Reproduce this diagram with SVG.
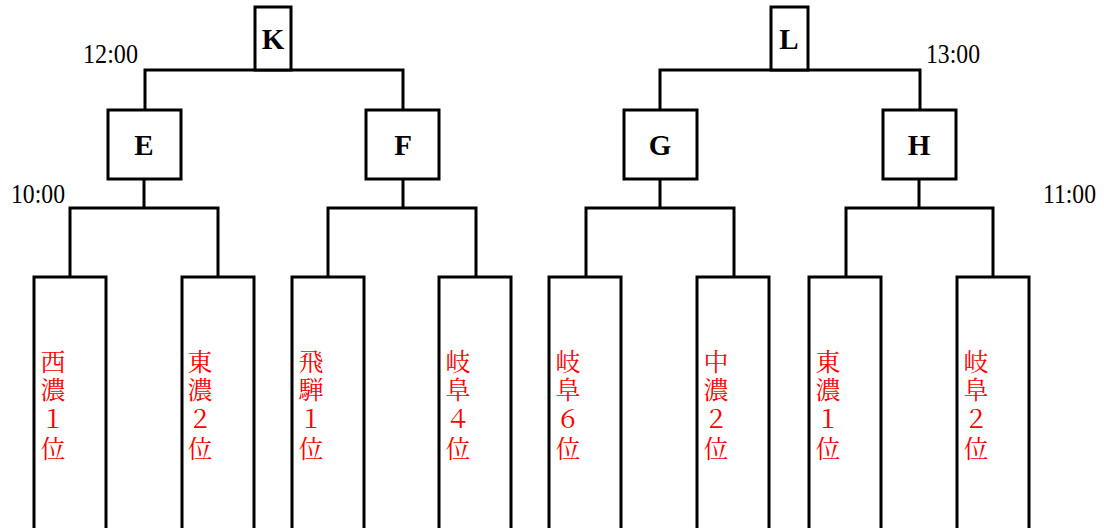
<svg xmlns="http://www.w3.org/2000/svg" width="1104" height="528" viewBox="0 0 1104 528">
<style>
.ln{fill:none;stroke:#000;stroke-width:3;stroke-linecap:square}
.bx{fill:#fff;stroke:#000;stroke-width:3}
.lbl{font-family:"Liberation Serif","DejaVu Serif",serif;font-weight:bold;font-size:29px;text-anchor:middle}
.tm{font-family:"Liberation Serif","DejaVu Serif",serif;font-size:27px}
.tn{font-family:"Noto Serif CJK JP","Noto Sans CJK JP",serif;font-size:25px;fill:#ff0000;text-anchor:middle;dominant-baseline:central}
</style>
<rect width="1104" height="528" fill="#fff"/>
<g id="connectors">
<path class="ln" d="M145,70 H403 M145,70 V110 M403,70 V110"/>
<path class="ln" d="M660,70 H920 M660,70 V110 M920,70 V110"/>
<path class="ln" d="M144,180 V208 M70,208 H218 M70,208 V277 M218,208 V277"/>
<path class="ln" d="M403,180 V208 M328,208 H476 M328,208 V277 M476,208 V277"/>
<path class="ln" d="M660,180 V208 M586,208 H734 M586,208 V277 M734,208 V277"/>
<path class="ln" d="M919,180 V208 M846,208 H993 M846,208 V277 M993,208 V277"/>
</g>
<g id="K"><rect class="bx" x="255" y="7" width="36" height="63"/><text class="lbl" x="273" y="49">K</text></g>
<g id="L"><rect class="bx" x="771" y="7" width="37" height="63"/><text class="lbl" x="789" y="49">L</text></g>
<g id="E"><rect class="bx" x="108" y="110" width="73" height="69"/><text class="lbl" x="144" y="155">E</text></g>
<g id="F"><rect class="bx" x="366" y="110" width="73" height="69"/><text class="lbl" x="403" y="155">F</text></g>
<g id="G"><rect class="bx" x="624" y="110" width="73" height="69"/><text class="lbl" x="660" y="155">G</text></g>
<g id="H"><rect class="bx" x="883" y="110" width="73" height="69"/><text class="lbl" x="919" y="155">H</text></g>
<g id="times">
<text class="tm" x="83" y="63" textLength="55" lengthAdjust="spacingAndGlyphs">12:00</text>
<text class="tm" x="11" y="203" textLength="54" lengthAdjust="spacingAndGlyphs">10:00</text>
<text class="tm" x="926" y="63" textLength="54" lengthAdjust="spacingAndGlyphs">13:00</text>
<text class="tm" x="1043" y="203" textLength="53" lengthAdjust="spacingAndGlyphs">11:00</text>
</g>
<g id="team1"><rect class="bx" x="34" y="277" width="72" height="270"/><text class="tn"><tspan x="53" y="360">西</tspan><tspan x="53" y="388">濃</tspan><tspan x="53" y="417">１</tspan><tspan x="53" y="447">位</tspan></text></g>
<g id="team2"><rect class="bx" x="182" y="277" width="72" height="270"/><text class="tn"><tspan x="200" y="360">東</tspan><tspan x="200" y="388">濃</tspan><tspan x="200" y="417">２</tspan><tspan x="200" y="447">位</tspan></text></g>
<g id="team3"><rect class="bx" x="292" y="277" width="72" height="270"/><text class="tn"><tspan x="311" y="360">飛</tspan><tspan x="311" y="388">騨</tspan><tspan x="311" y="417">１</tspan><tspan x="311" y="447">位</tspan></text></g>
<g id="team4"><rect class="bx" x="439" y="277" width="72" height="270"/><text class="tn"><tspan x="458" y="360">岐</tspan><tspan x="458" y="388">阜</tspan><tspan x="458" y="417">４</tspan><tspan x="458" y="447">位</tspan></text></g>
<g id="team5"><rect class="bx" x="549" y="277" width="72" height="270"/><text class="tn"><tspan x="568" y="360">岐</tspan><tspan x="568" y="388">阜</tspan><tspan x="568" y="417">６</tspan><tspan x="568" y="447">位</tspan></text></g>
<g id="team6"><rect class="bx" x="697" y="277" width="72" height="270"/><text class="tn"><tspan x="716" y="360">中</tspan><tspan x="716" y="388">濃</tspan><tspan x="716" y="417">２</tspan><tspan x="716" y="447">位</tspan></text></g>
<g id="team7"><rect class="bx" x="809" y="277" width="72" height="270"/><text class="tn"><tspan x="828" y="360">東</tspan><tspan x="828" y="388">濃</tspan><tspan x="828" y="417">１</tspan><tspan x="828" y="447">位</tspan></text></g>
<g id="team8"><rect class="bx" x="957" y="277" width="72" height="270"/><text class="tn"><tspan x="976" y="360">岐</tspan><tspan x="976" y="388">阜</tspan><tspan x="976" y="417">２</tspan><tspan x="976" y="447">位</tspan></text></g>
</svg>
